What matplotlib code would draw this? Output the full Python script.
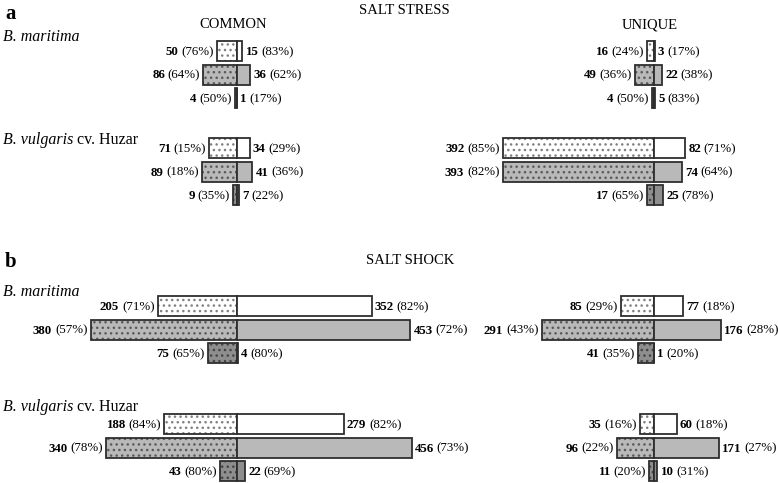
import numpy as np
import matplotlib.pyplot as plt

plt.rcParams['font.family'] = ['Liberation Serif', 'DejaVu Serif']
plt.rcParams['hatch.linewidth'] = 1.0

species = ['B. maritima', 'B. vulgaris']

# each entry: [maritima rows, vulgaris rows]; rows = white / light grey / dark grey
stress_common_left = [[50, 86, 4], [71, 89, 9]]
stress_common_left_pct = [[76, 64, 50], [15, 18, 35]]
stress_common_right = [[15, 36, 1], [34, 41, 7]]
stress_common_right_pct = [[83, 62, 17], [29, 36, 22]]

stress_unique_left = [[16, 49, 4], [392, 393, 17]]
stress_unique_left_pct = [[24, 36, 50], [85, 82, 65]]
stress_unique_right = [[3, 22, 5], [82, 74, 25]]
stress_unique_right_pct = [[17, 38, 83], [71, 64, 78]]

shock_common_left = [[205, 380, 75], [188, 340, 43]]
shock_common_left_pct = [[71, 57, 65], [84, 78, 80]]
shock_common_right = [[352, 453, 4], [279, 456, 22]]
shock_common_right_pct = [[82, 72, 80], [82, 73, 69]]

shock_unique_left = [[85, 291, 41], [35, 96, 11]]
shock_unique_left_pct = [[29, 43, 35], [16, 22, 20]]
shock_unique_right = [[77, 176, 1], [60, 171, 10]]
shock_unique_right_pct = [[18, 28, 20], [18, 27, 31]]

faces = ['white', '#b9b9b9', '#8e8e8e']
dots = ['#808080', '#5a5a5a', '#444444']
edge = '#2e2e2e'

W, H = 778, 483
s = 0.384            # px per count
c_common = 236.5     # px
c_unique = 653.5

fig = plt.figure(figsize=(W / 100, H / 100), dpi=100)
ax = fig.add_axes([0, 0, 1, 1])
ax.set_xlim(-c_common / s, (W - c_common) / s)
ax.set_ylim(H, 0)
ax.axis('off')
ux = (c_unique - c_common) / s   # unique column centre in count units

fs = 9.3
bh = 20


def label_left(x, y, n, p):
    t = ax.annotate(f'({p}%)', xy=(x, y + 4), xytext=(-2.3, 0), textcoords='offset points',
                    ha='right', va='baseline', fontsize=fs)
    ax.annotate(str(n), xy=(0, y + 4), xycoords=(t, 'data'), xytext=(-2.0, 0),
                textcoords='offset points', ha='right', va='baseline', fontsize=fs,
                fontweight='bold')


def label_right(x, y, n, p):
    t = ax.annotate(str(n), xy=(x, y + 4), xytext=(2.3, 0), textcoords='offset points',
                    ha='left', va='baseline', fontsize=fs, fontweight='bold')
    ax.annotate(f'({p}%)', xy=(1, y + 4), xycoords=(t, 'data'), xytext=(2.0, 0),
                textcoords='offset points', ha='left', va='baseline', fontsize=fs)


def block(cx, ys, left, lpct, right, rpct):
    for i in range(3):
        y = ys[i]
        lv, rv = left[i], right[i]
        ax.barh(y, lv, left=cx - lv, height=bh, color=faces[i], hatch='...',
                edgecolor=dots[i], linewidth=0)
        ax.barh(y, lv, left=cx - lv, height=bh, fill=False, edgecolor=edge, linewidth=1.3)
        ax.barh(y, rv, left=cx, height=bh, color=faces[i], edgecolor=edge, linewidth=1.3)
        label_left(cx - lv, y, lv, lpct[i])
        label_right(cx + rv, y, rv, rpct[i])


step = 23.5
rows_a = [[51 + k * step for k in range(3)], [148 + k * step for k in range(3)]]
rows_b = [[306 + k * step for k in range(3)], [424 + k * step for k in range(3)]]

for g in range(2):
    block(0, rows_a[g], stress_common_left[g], stress_common_left_pct[g],
          stress_common_right[g], stress_common_right_pct[g])
    block(ux, rows_a[g], stress_unique_left[g], stress_unique_left_pct[g],
          stress_unique_right[g], stress_unique_right_pct[g])
    block(0, rows_b[g], shock_common_left[g], shock_common_left_pct[g],
          shock_common_right[g], shock_common_right_pct[g])
    block(ux, rows_b[g], shock_unique_left[g], shock_unique_left_pct[g],
          shock_unique_right[g], shock_unique_right_pct[g])


def px(xp):
    return (xp - c_common) / s


# panel letters and titles
ax.text(px(5), 14, 'a', fontsize=15, fontweight='bold', ha='left', va='center')
ax.text(px(5), 262, 'b', fontsize=15, fontweight='bold', ha='left', va='center')
ax.text(px(404), 11, 'SALT STRESS', fontsize=10.5, ha='center', va='center')
ax.text(px(410), 260, 'SALT SHOCK', fontsize=10.5, ha='center', va='center')
ax.text(px(233), 25, 'COMMON', fontsize=10.5, ha='center', va='center')
ax.text(px(650), 25, 'UNIQUE', fontsize=10.5, ha='center', va='center')

# species labels
for yl, name in [(37, 0), (140, 1), (292, 0), (407, 1)]:
    t = ax.text(px(3), yl, species[name], fontsize=11.5,
                style='italic', ha='left', va='center')
    if name == 1:
        ax.annotate(' cv. Huzar', xy=(1, 0.5), xycoords=t, ha='left', va='center',
                    fontsize=11.5)

fig.savefig('out.png', dpi=100)
